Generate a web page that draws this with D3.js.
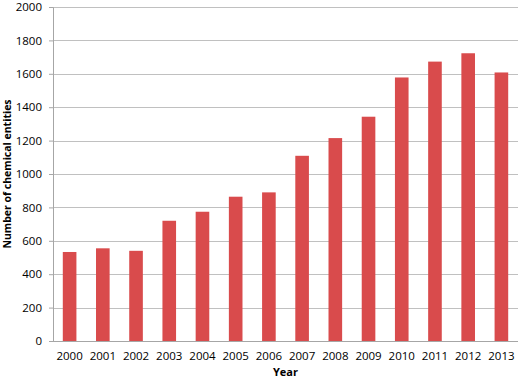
<!DOCTYPE html>
<html>
<head>
<meta charset="utf-8">
<script src="https://cdn.jsdelivr.net/npm/d3@7"></script>
<style>
  body { margin: 0; background: #fff; }
  text { font-family: "Open Sans", sans-serif; }
</style>
</head>
<body>
<svg id="chart" width="520" height="378"></svg>
<script>
// data
const years = ["2000", "2001", "2002", "2003", "2004", "2005", "2006",
               "2007", "2008", "2009", "2010", "2011", "2012", "2013"];
const counts = [533, 555, 540, 720, 774, 864, 890, 1109, 1215, 1343, 1578, 1673, 1723, 1608];
const yTicks = [0, 200, 400, 600, 800, 1000, 1200, 1400, 1600, 1800, 2000];

const margin = {top: 7, right: 2, bottom: 37, left: 53};
const width = 520 - margin.left - margin.right;
const height = 378 - margin.top - margin.bottom;

const svg = d3.select("#chart");
const g = svg.append("g")
    .attr("transform", "translate(" + margin.left + "," + margin.top + ")");

const x = d3.scaleBand()
    .domain(years)
    .range([0, width])
    .paddingInner(0.59)
    .paddingOuter(0.295);

const y = d3.scaleLinear()
    .domain([0, 2000])
    .range([height, 0]);

// horizontal gridlines
g.append("g")
    .selectAll("line")
    .data(yTicks.filter(d => d > 0))
    .join("line")
    .attr("x1", 0)
    .attr("x2", width)
    .attr("y1", d => Math.round(y(d)) + 0.5)
    .attr("y2", d => Math.round(y(d)) + 0.5)
    .attr("stroke", "#c0c0c0")
    .attr("stroke-width", 1);

// bars
g.append("g")
    .selectAll("rect")
    .data(counts)
    .join("rect")
    .attr("x", (d, i) => x(years[i]))
    .attr("y", d => y(d))
    .attr("width", x.bandwidth())
    .attr("height", d => height - y(d))
    .attr("fill", "#d94b4c");

// y axis
const yAxis = g.append("g")
    .call(d3.axisLeft(y).tickValues(yTicks).tickFormat(d3.format("d")).tickSize(4).tickPadding(7));
yAxis.select(".domain").attr("stroke", "#a6a6a6");
yAxis.selectAll(".tick line").attr("stroke", "#a6a6a6");
yAxis.selectAll(".tick text")
    .attr("font-size", 11.5)
    .attr("font-family", "Open Sans, sans-serif")
    .attr("fill", "#000");

// x axis
const xAxis = g.append("g")
    .attr("transform", "translate(0," + height + ")")
    .call(d3.axisBottom(x).tickSize(0).tickPadding(11));
xAxis.select(".domain").attr("stroke", "#a6a6a6").attr("d", "M0,0.5H" + width);
xAxis.selectAll(".tick text")
    .attr("font-size", 11.5)
    .attr("font-family", "Open Sans, sans-serif")
    .attr("fill", "#000");

// axis titles
svg.append("text")
    .attr("x", margin.left + width / 2)
    .attr("y", 376)
    .attr("text-anchor", "middle")
    .attr("font-size", 11)
    .attr("font-weight", "bold")
    .text("Year");

svg.append("text")
    .attr("transform", "translate(11," + (margin.top + height / 2) + ") rotate(-90)")
    .attr("text-anchor", "middle")
    .attr("font-size", 10.5)
    .attr("font-weight", "bold")
    .text("Number of chemical entities");
</script>
</body>
</html>
